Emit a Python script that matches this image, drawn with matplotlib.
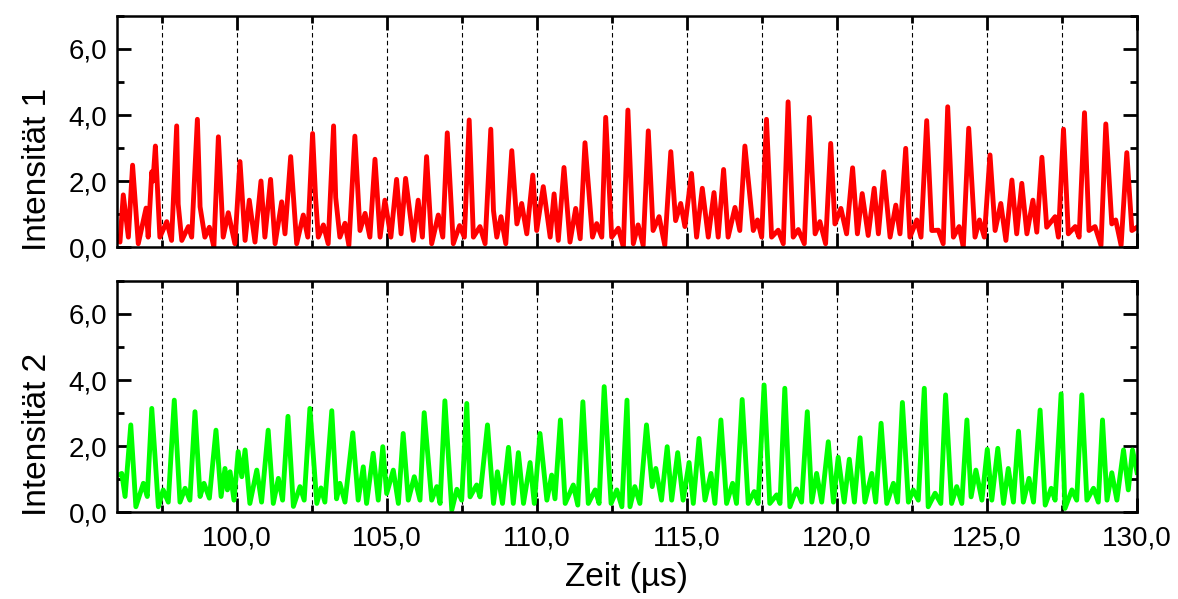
import matplotlib
matplotlib.use('Agg')
import matplotlib.pyplot as plt
from matplotlib.ticker import MultipleLocator, FuncFormatter

plt.rcParams['font.family'] = ['Liberation Sans', 'DejaVu Sans']

# Kanal 1: Zeitpunkte (µs) der Maxima und Minima, abwechselnd
zeit_1 = [96.0, 96.1, 96.21, 96.38, 96.52, 96.71, 96.97, 97.04, 97.16, 97.2, 97.28, 97.43, 97.66, 97.82,
          97.99, 98.04, 98.16, 98.38, 98.49, 98.68, 98.77, 98.93, 99.08, 99.23, 99.38, 99.54, 99.71, 99.93,
          100.1, 100.27, 100.41, 100.6, 100.8, 100.93, 101.12, 101.27, 101.49, 101.6, 101.79, 101.99,
          102.21, 102.36, 102.52, 102.62, 102.71, 102.88, 103.04, 103.22, 103.29, 103.43, 103.6, 103.73,
          103.93, 104.1, 104.27, 104.43, 104.6, 104.77, 104.93, 105.13, 105.32, 105.47, 105.62, 105.88,
          106.04, 106.18, 106.32, 106.49, 106.71, 106.86, 107.01, 107.21, 107.42, 107.58, 107.74, 107.88,
          108.1, 108.27, 108.46, 108.55, 108.66, 108.8, 108.96, 109.16, 109.33, 109.49, 109.66, 109.86,
          109.99, 110.21, 110.44, 110.57, 110.71, 110.9, 111.1, 111.29, 111.44, 111.6, 111.77, 111.85,
          111.99, 112.16, 112.29, 112.49, 112.71, 112.88, 113.03, 113.21, 113.37, 113.54, 113.71, 113.87,
          114.07, 114.26, 114.46, 114.62, 114.79, 114.93, 115.15, 115.32, 115.51, 115.71, 115.9, 116.04,
          116.22, 116.37, 116.6, 116.76, 116.93, 117.21, 117.35, 117.49, 117.65, 117.82, 118.04, 118.21,
          118.37, 118.54, 118.71, 118.91, 119.08, 119.27, 119.43, 119.62, 119.79, 119.93, 120.13, 120.32,
          120.52, 120.68, 120.84, 121.04, 121.24, 121.38, 121.56, 121.77, 121.96, 122.1, 122.29, 122.43,
          122.66, 122.8, 122.99, 123.16, 123.38, 123.54, 123.69, 123.88, 124.07, 124.21, 124.39, 124.6,
          124.75, 124.91, 125.1, 125.27, 125.46, 125.63, 125.83, 125.99, 126.16, 126.33, 126.53, 126.66,
          126.83, 126.99, 127.27, 127.38, 127.55, 127.71, 127.94, 128.07, 128.25, 128.4, 128.6, 128.8,
          128.96, 129.16, 129.29, 129.47, 129.66, 129.83, 130.0]
intens_1 = [0.3, 0.15, 1.58, 0.3, 2.48, 0.1, 1.18, 0.3, 2.28, 2.0, 3.06, 0.3, 0.77, 0.2,
            3.67, 1.3, 0.2, 0.62, 0.3, 3.87, 1.22, 0.3, 0.6, 0.0, 3.34, 0.3, 1.04, 0.1,
            2.59, 0.2, 1.42, 0.15, 2.0, 0.3, 2.05, 0.1, 1.37, 0.4, 2.74, 0.1,
            0.97, 0.3, 3.44, 1.5, 0.3, 0.67, 0.1, 3.67, 1.5, 0.3, 0.72, 0.05,
            3.36, 0.5, 1.02, 0.3, 2.66, 0.3, 1.42, 0.3, 2.05, 0.4, 2.08, 0.2,
            1.42, 0.3, 2.74, 0.1, 0.97, 0.3, 3.46, 0.1, 0.65, 0.3, 3.85, 0.3,
            0.62, 0.1, 3.57, 1.1, 0.3, 0.92, 0.1, 2.92, 0.7, 1.32, 0.4, 2.18,
            0.5, 1.83, 0.3, 1.61, 0.2, 2.41, 0.15, 1.17, 0.25, 3.16, 1.2, 0.3,
            0.71, 0.3, 3.93, 0.3, 0.57, 0.0, 4.15, 0.1, 0.67, 0.05, 3.52, 0.5,
            0.92, 0.05, 2.89, 0.8, 1.32, 0.62, 2.23, 0.3, 1.78, 0.3, 1.65, 0.3,
            2.35, 0.3, 1.2, 0.5, 3.06, 0.5, 0.82, 0.3, 3.87, 0.3, 0.51, 0.1,
            4.4, 0.3, 0.53, 0.1, 3.93, 0.4, 0.77, 0.1, 3.14, 0.7, 1.17, 0.4,
            2.4, 0.4, 1.62, 0.35, 1.78, 0.4, 2.28, 0.3, 1.27, 0.4, 2.99, 0.3,
            0.82, 0.3, 3.83, 0.5, 0.51, 0.1, 4.25, 0.3, 0.62, 0.0, 3.6, 0.3,
            0.82, 0.3, 2.79, 0.5, 1.32, 0.2, 2.03, 0.4, 1.93, 0.4, 1.42, 0.45,
            2.72, 0.6, 0.92, 0.3, 3.57, 0.4, 0.62, 0.3, 4.07, 0.5, 0.62, 0.05,
            3.73, 0.7, 0.82, 0.05, 2.86, 0.5, 0.6]

# Kanal 2
zeit_2 = [96.0, 96.16, 96.27, 96.46, 96.63, 96.88, 97.01, 97.16, 97.38, 97.54, 97.71, 97.91, 98.1, 98.27,
          98.43, 98.6, 98.77, 98.9, 99.08, 99.3, 99.47, 99.6, 99.68, 99.77, 99.9, 100.04, 100.16, 100.27,
          100.43, 100.66, 100.82, 101.04, 101.21, 101.38, 101.52, 101.7, 101.88, 102.1, 102.24, 102.43,
          102.66, 102.8, 102.93, 103.16, 103.32, 103.43, 103.6, 103.86, 104.04, 104.21, 104.32, 104.54,
          104.71, 104.86, 104.99, 105.21, 105.38, 105.54, 105.71, 105.91, 106.1, 106.24, 106.49, 106.66,
          106.77, 106.93, 107.16, 107.33, 107.49, 107.66, 107.77, 107.99, 108.1, 108.35, 108.55, 108.68,
          108.85, 109.05, 109.21, 109.38, 109.55, 109.77, 109.91, 110.1, 110.33, 110.49, 110.6, 110.78,
          110.94, 111.21, 111.36, 111.53, 111.71, 111.94, 112.07, 112.24, 112.47, 112.66, 112.83, 113.0,
          113.1, 113.26, 113.43, 113.65, 113.84, 113.96, 114.15, 114.34, 114.49, 114.69, 114.87, 115.07,
          115.21, 115.4, 115.6, 115.8, 115.93, 116.13, 116.32, 116.52, 116.65, 116.84, 117.04, 117.24,
          117.37, 117.57, 117.76, 117.99, 118.1, 118.26, 118.43, 118.65, 118.82, 119.01, 119.16, 119.32,
          119.49, 119.71, 119.88, 120.04, 120.24, 120.41, 120.58, 120.77, 120.93, 121.16, 121.29, 121.47,
          121.66, 121.88, 122.02, 122.18, 122.38, 122.54, 122.71, 122.91, 123.04, 123.27, 123.46, 123.62,
          123.82, 123.99, 124.16, 124.33, 124.47, 124.63, 124.83, 125.01, 125.16, 125.36, 125.55, 125.71,
          125.88, 126.05, 126.21, 126.4, 126.55, 126.77, 126.94, 127.14, 127.27, 127.47, 127.6, 127.83,
          127.99, 128.16, 128.33, 128.55, 128.71, 128.85, 129.0, 129.16, 129.33, 129.55, 129.71, 129.85,
          130.0]
intens_2 = [1.1, 1.17, 0.47, 2.64, 0.16, 0.87, 0.47, 3.14, 0.16, 0.67, 0.3, 3.39, 0.3, 0.72,
            0.36, 3.04, 0.47, 0.87, 0.42, 2.48, 0.47, 1.32, 0.67, 1.22, 0.36, 1.83, 1.07, 1.88,
            0.26, 1.27, 0.3, 2.48, 0.26, 1.02, 0.36, 2.9, 0.17, 0.77, 0.36, 3.14,
            0.26, 0.73, 0.3, 3.07, 0.4, 0.87, 0.3, 2.4, 0.36, 1.37, 0.26, 1.78,
            0.36, 1.98, 0.56, 1.27, 0.26, 2.38, 0.36, 1.07, 0.36, 3.01, 0.36, 0.77,
            0.26, 3.37, 0.06, 0.69, 0.36, 3.29, 0.46, 0.82, 0.46, 2.64, 0.26, 1.22,
            0.26, 1.96, 0.26, 1.8, 0.26, 1.5, 0.26, 2.38, 0.36, 1.12, 0.4, 2.79,
            0.26, 0.82, 0.21, 3.34, 0.26, 0.67, 0.26, 3.8, 0.26, 0.67, 0.16, 3.39,
            0.16, 0.77, 0.26, 2.64, 0.77, 1.32, 0.36, 1.98, 0.36, 1.8, 0.36, 1.5,
            0.26, 2.23, 0.36, 1.17, 0.26, 2.79, 0.26, 0.87, 0.26, 3.41, 0.26, 0.62,
            0.26, 3.85, 0.26, 0.52, 0.26, 3.75, 0.16, 0.7, 0.3, 3.04, 0.3, 1.17,
            0.3, 2.13, 0.3, 1.66, 0.3, 1.6, 0.3, 2.25, 0.3, 1.17, 0.3, 2.69,
            0.26, 0.87, 0.3, 3.32, 0.3, 0.67, 0.36, 3.75, 0.16, 0.57, 0.26, 3.55,
            0.26, 0.77, 0.26, 2.79, 0.46, 1.27, 0.36, 1.9, 0.36, 1.93, 0.26, 1.32,
            0.3, 2.45, 0.3, 1.02, 0.3, 3.09, 0.21, 0.72, 0.36, 3.58, 0.11, 0.67,
            0.36, 3.55, 0.36, 0.72, 0.3, 2.79, 0.36, 1.19, 0.36, 1.88, 0.67, 1.88,
            1.2]

gitter = [97.5, 100.0, 102.5, 105.0, 107.5, 110.0, 112.5, 115.0, 117.5, 120.0, 122.5, 125.0, 127.5]

komma = FuncFormatter(lambda v, pos: '{:.1f}'.format(v).replace('.', ','))

fig = plt.figure(figsize=(11.78, 5.99), dpi=100)
ax1 = fig.add_axes([0.0993, 0.5876, 0.8659, 0.3857])
ax2 = fig.add_axes([0.0993, 0.1452, 0.8659, 0.3857])

for ax, t, y, farbe, name in [(ax1, zeit_1, intens_1, '#ff0000', 'Intensität 1'),
                              (ax2, zeit_2, intens_2, '#00ff00', 'Intensität 2')]:
    for g in gitter:
        ax.axvline(g, color='black', lw=0.8, ls=(0, (4, 3)), zorder=1)
    ax.plot(t, y, color=farbe, lw=3.5, solid_joinstyle='round', zorder=2)
    ax.set_xlim(96, 130)
    ax.set_ylim(0, 7)
    ax.xaxis.set_major_locator(MultipleLocator(5))
    ax.xaxis.set_minor_locator(MultipleLocator(2.5))
    ax.yaxis.set_major_locator(MultipleLocator(2))
    ax.yaxis.set_minor_locator(MultipleLocator(1))
    ax.yaxis.set_major_formatter(komma)
    ax.xaxis.set_major_formatter(komma)
    ax.tick_params(which='both', direction='in', top=True, right=True, width=2, labelsize=20)
    ax.tick_params(axis='y', pad=7)
    ax.tick_params(axis='x', pad=10)
    ax.tick_params(which='major', length=10)
    ax.tick_params(which='minor', length=5)
    for s in ax.spines.values():
        s.set_linewidth(1.8)
    ax.set_ylabel(name, fontsize=24)
    ax.yaxis.set_label_coords(-0.063, 0.335)

ax1.tick_params(labelbottom=False)
ax2.set_xlabel('Zeit (µs)', fontsize=24)
ax2.xaxis.set_label_coords(0.5, -0.215)

fig.savefig('out.png', dpi=100)
